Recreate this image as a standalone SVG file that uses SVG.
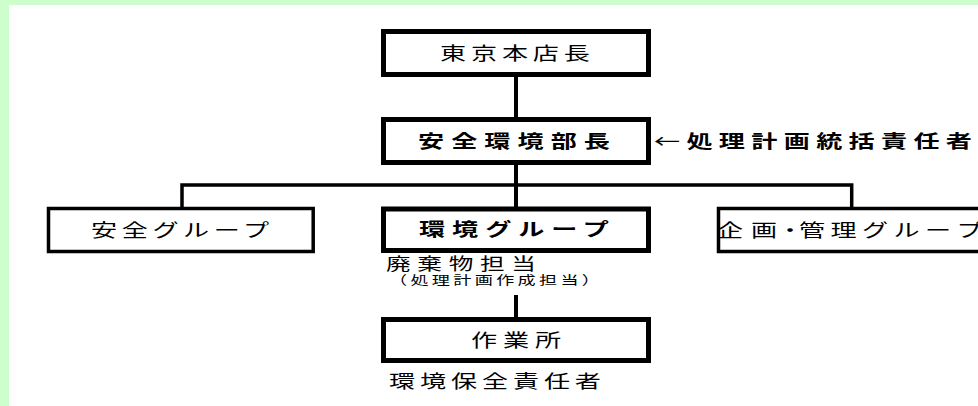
<svg xmlns="http://www.w3.org/2000/svg" width="978" height="406" viewBox="0 0 978 406">
<style>
.box{fill:#fff;stroke:#000;stroke-width:5}
.sbox{fill:#fff;stroke:#000;stroke-width:3.5}
.t{font-family:"Noto Sans CJK JP","Noto Sans CJK SC",sans-serif;font-size:18px;fill:#000}
.b{font-weight:bold}
.s{font-size:12.5px}
.con{fill:none;stroke:#000;stroke-width:4;stroke-linejoin:miter}
</style>
<rect x="0" y="0" width="978" height="406" fill="#CCFFCC"/>
<rect x="9" y="5" width="969" height="401" fill="#FFFFFF"/>
<g id="connectors">
<line class="con" x1="516" y1="77" x2="516" y2="117"/>
<line class="con" x1="516" y1="165" x2="516" y2="207"/>
<path class="con" style="stroke-width:3.5" d="M182,207 V185 H851.7 V207"/>
<line class="con" x1="516" y1="295" x2="516" y2="317"/>
</g>
<g id="honten">
<rect class="box" x="383.5" y="31.5" width="265" height="43"/>
<text class="t" transform="translate(440,60) scale(1.45,1)" textLength="103.4" lengthAdjust="spacing">東京本店長</text>
</g>
<g id="buchou">
<rect class="box" x="383.5" y="119.5" width="265" height="43"/>
<text class="t b" transform="translate(418,148) scale(1.45,1)" textLength="132.4" lengthAdjust="spacing">安全環境部長</text>
</g>
<g id="note-toukatsu">
<text class="t b" transform="translate(654,148) scale(1.45,1)" textLength="219.3" lengthAdjust="spacing"><tspan font-weight="normal">←</tspan>処理計画統括責任者</text>
</g>
<g id="anzen-group">
<rect class="sbox" x="48.5" y="208.5" width="264.7" height="43"/>
<text class="t" transform="translate(91,236.5) scale(1.45,1)" textLength="122.8" lengthAdjust="spacing">安全グループ</text>
</g>
<g id="kankyo-group">
<rect class="box" x="383.5" y="209" width="265" height="41.5"/>
<text class="t b" transform="translate(419,236) scale(1.45,1)" textLength="131" lengthAdjust="spacing">環境グループ</text>
<text class="t" style="font-size:17px" transform="translate(386,269.5) scale(1.45,1)" textLength="103.4" lengthAdjust="spacing">廃棄物担当</text>
<text class="t s" transform="translate(389,285) scale(1.45,1)" textLength="145.5" lengthAdjust="spacing">（処理計画作成担当）</text>
</g>
<g id="kikaku-group">
<rect class="sbox" x="718.5" y="208.5" width="300" height="43"/>
<text class="t" transform="translate(717,236.5) scale(1.45,1)" x="0 23.4 41.4 56.6 78.3 100 121.7 143.4 165.1">企画・管理グループ</text>
</g>
<g id="sagyousho">
<rect class="box" x="383.5" y="319.5" width="265" height="41"/>
<text class="t" transform="translate(471,346.5) scale(1.45,1)" textLength="62.1" lengthAdjust="spacing">作業所</text>
<text class="t" transform="translate(389,387.5) scale(1.45,1)" textLength="146.2" lengthAdjust="spacing">環境保全責任者</text>
</g>
</svg>
